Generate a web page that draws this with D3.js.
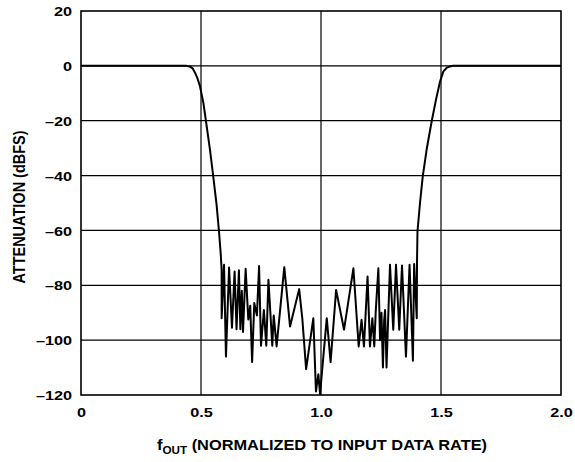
<!DOCTYPE html>
<html>
<head>
<meta charset="utf-8">
<script src="https://cdn.jsdelivr.net/npm/d3@7"></script>
<style>
  body { margin: 0; background: #fff; }
  text { font-family: "Liberation Sans", Arial, sans-serif; font-weight: bold; fill: #000; }
</style>
</head>
<body>
<div id="chartContainer"></div>
<script>
// chart data
const xTicks = [0, 0.5, 1.0, 1.5, 2.0];
const yTicks = [20, 0, -20, -40, -60, -80, -100, -120];

// left transition band
const fallFreq = [0, 0.44, 0.455, 0.465, 0.475, 0.485, 0.496, 0.51, 0.521, 0.5375, 0.551, 0.565, 0.575, 0.582, 0.586];
const fallAtten = [0, 0, -0.3, -0.9, -2.5, -4.5, -7.5, -13.6, -20.3, -30.6, -40.3, -50.7, -60.4, -68.3, -74.4];

// stop band
const stopFreq = [
  0.586, 0.596, 0.604, 0.617, 0.629, 0.640, 0.648, 0.658, 0.664, 0.670,
  0.675, 0.686, 0.697, 0.705, 0.713, 0.722, 0.733, 0.742, 0.750, 0.762,
  0.772, 0.781, 0.797, 0.803, 0.815, 0.847, 0.871, 0.909, 0.922, 0.938,
  0.968, 0.979, 0.989, 0.996, 1.024, 1.040, 1.063, 1.096, 1.135, 1.157,
  1.169, 1.179, 1.194, 1.204, 1.214, 1.222, 1.228, 1.239, 1.246, 1.252,
  1.258, 1.263, 1.267, 1.273, 1.2875, 1.301, 1.3125, 1.326, 1.3375, 1.354,
  1.369, 1.383, 1.388, 1.399
];
const stopAtten = [
  -92, -72.5, -106, -73.5, -95.5, -75, -96, -74.5, -96, -82,
  -97, -74, -92.5, -87.5, -108, -86.5, -91, -73, -102, -89,
  -102, -78, -102, -91, -102.3, -73.4, -95, -81.4, -92, -110.6,
  -92, -118.7, -112.4, -119.6, -92, -108, -81.7, -96.2, -73.8, -102.3,
  -92.6, -102.3, -76.8, -102.3, -92, -102.3, -89.6, -73.8, -100, -90,
  -110, -93, -89, -110, -72.5, -96.2, -72.5, -96.2, -72.8, -106,
  -72.5, -107.5, -72.2, -92
];

// right transition band
const riseFreq = [1.400, 1.402, 1.4125, 1.424, 1.440, 1.461, 1.479, 1.496, 1.51, 1.525, 1.5375, 1.55, 2.0];
const riseAtten = [-72, -60.4, -50, -40.3, -30.6, -20.3, -12.4, -5.7, -2, -0.6, -0.2, 0, 0];

const freq = fallFreq.concat(stopFreq, riseFreq);
const atten = fallAtten.concat(stopAtten, riseAtten);
const data = freq.map((f, i) => ({ f: f, a: atten[i] }));

// the original lettering is a little wider than Arial
const stretch = 1.25;

// set the dimensions and margins of the graph
const margin = { top: 11, right: 14, bottom: 67, left: 81 },
  width = 575 - margin.left - margin.right,
  height = 462 - margin.top - margin.bottom;

const svg = d3
  .select("#chartContainer")
  .append("svg")
  .attr("width", width + margin.left + margin.right)
  .attr("height", height + margin.top + margin.bottom)
  .append("g")
  .attr("transform", "translate(" + margin.left + "," + margin.top + ")");

const x = d3.scaleLinear().domain([0, 2]).range([0, width]);
const y = d3.scaleLinear().domain([-120, 20]).range([height, 0]);

// grid lines
svg
  .append("g")
  .selectAll("line")
  .data(yTicks.slice(1, -1))
  .enter()
  .append("line")
  .attr("x1", 0)
  .attr("x2", width)
  .attr("y1", (d) => y(d))
  .attr("y2", (d) => y(d))
  .attr("stroke", "#000")
  .attr("stroke-width", 1.2);

svg
  .append("g")
  .selectAll("line")
  .data(xTicks.slice(1, -1))
  .enter()
  .append("line")
  .attr("y1", 0)
  .attr("y2", height)
  .attr("x1", (d) => x(d))
  .attr("x2", (d) => x(d))
  .attr("stroke", "#000")
  .attr("stroke-width", 1.2);

// frame
svg
  .append("rect")
  .attr("width", width)
  .attr("height", height)
  .attr("fill", "none")
  .attr("stroke", "#000")
  .attr("stroke-width", 1.6);

// axes
svg
  .append("g")
  .style("font-size", "13px")
  .call(
    d3
      .axisLeft(y)
      .tickValues(yTicks)
      .tickSize(0)
      .tickPadding(9 / stretch)
      .tickFormat((d) => (d < 0 ? "\u2013" + Math.abs(d) : d))
  )
  .call((g) => g.select(".domain").remove())
  .selectAll("text")
  .attr("font-family", null)
  .attr("dy", "0.36em")
  .attr("transform", "scale(" + stretch + ",1)");

svg
  .append("g")
  .attr("transform", "translate(0," + height + ")")
  .style("font-size", "13px")
  .call(
    d3
      .axisBottom(x)
      .tickValues(xTicks)
      .tickSize(0)
      .tickPadding(13)
      .tickFormat((d) => (d === 0 ? "0" : d3.format(".1f")(d)))
  )
  .call((g) => g.select(".domain").remove())
  .selectAll("text")
  .attr("font-family", null)
  .attr("transform", "scale(" + stretch + ",1)");

// response curve
const line = d3
  .line()
  .x((d) => x(d.f))
  .y((d) => y(d.a));

svg
  .append("path")
  .datum(data)
  .attr("fill", "none")
  .attr("stroke", "#000")
  .attr("stroke-width", 2)
  .attr("stroke-linejoin", "round")
  .attr("d", line);

// axis titles
svg
  .append("text")
  .attr("transform", "translate(-56," + (height / 2 + 4) + ") scale(1.1,1) rotate(-90)")
  .attr("text-anchor", "middle")
  .style("font-size", "14.5px")
  .text("ATTENUATION (dBFS)");

const xTitle = svg
  .append("text")
  .attr("transform", "translate(" + (width / 2 + 1) + "," + (height + 55) + ") scale(1.17,1)")
  .attr("text-anchor", "middle")
  .style("font-size", "14px");
xTitle.append("tspan").text("f");
xTitle.append("tspan").attr("dy", 4).style("font-size", "10px").text("OUT");
xTitle.append("tspan").attr("dy", -4).text(" (NORMALIZED TO INPUT DATA RATE)");
</script>
</body>
</html>
